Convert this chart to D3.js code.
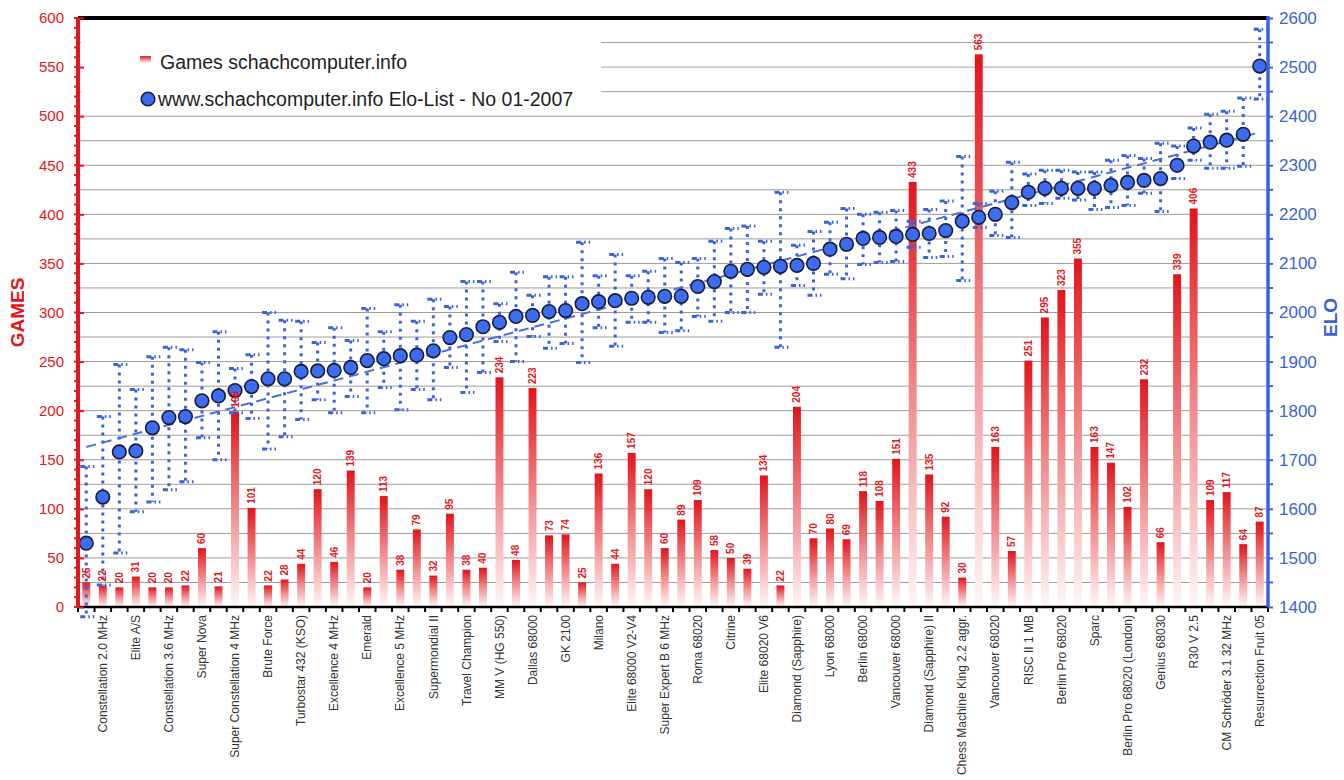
<!DOCTYPE html>
<html>
<head>
<meta charset="utf-8">
<script src="https://cdnjs.cloudflare.com/ajax/libs/d3/7.8.5/d3.min.js"></script>
<style>
    body { margin: 0; background: #fff; }
    text { font-family: "Liberation Sans", Arial, sans-serif; }
</style>
</head>
<body>
<div id="chart"></div>
<script>

// category names, only every second one is printed on the chart
var names = [
    "", "Constellation 2.0 MHz", "", "Elite A/S", "", "Constellation 3.6 MHz",
    "", "Super Nova", "", "Super Constellation 4 MHz", "", "Brute Force",
    "", "Turbostar 432 (KSO)", "", "Excellence 4 MHz", "", "Emerald",
    "", "Excellence 5 MHz", "", "Supermondial II", "", "Travel Champion",
    "", "MM V (HG 550)", "", "Dallas 68000", "", "GK 2100",
    "", "Milano", "", "Elite 68000 V2-V4", "", "Super Expert B 6 MHz",
    "", "Roma 68020", "", "Citrine", "", "Elite 68020 V6",
    "", "Diamond (Sapphire)", "", "Lyon 68000", "", "Berlin 68000",
    "", "Vancouver 68000", "", "Diamond (Sapphire) II", "", "Chess Machine King 2.2 aggr.",
    "", "Vancouver 68020", "", "RISC II 1 MB", "", "Berlin Pro 68020",
    "", "Sparc", "", "Berlin Pro 68020 (London)", "", "Genius 68030",
    "", "R30 V 2.5", "", "CM Schröder 3.1 32 MHz", "", "Resurrection Fruit 05"
];

var games = [
    25, 22, 20, 31, 20, 20, 22, 60, 21, 199,
    101, 22, 28, 44, 120, 46, 139, 20, 113, 38,
    79, 32, 95, 38, 40, 234, 48, 223, 73, 74,
    25, 136, 44, 157, 120, 60, 89, 109, 58, 50,
    39, 134, 22, 204, 70, 80, 69, 118, 108, 151,
    433, 135, 92, 30, 563, 163, 57, 251, 295, 323,
    355, 163, 147, 102, 232, 66, 339, 406, 109, 117,
    64, 87
];

var elo = [
    1530, 1624, 1716, 1718, 1765, 1786, 1788, 1820, 1830, 1841,
    1849, 1865, 1865, 1880, 1881, 1882, 1888, 1902, 1906, 1912,
    1913, 1922, 1949, 1955, 1971, 1980, 1992, 1994, 2002, 2004,
    2018, 2022, 2024, 2029, 2031, 2033, 2033, 2053, 2063, 2084,
    2088, 2092, 2094, 2096, 2100, 2129, 2139, 2151, 2153, 2155,
    2159, 2161, 2167, 2186, 2194, 2200, 2224, 2245, 2253, 2253,
    2253, 2253, 2259, 2265, 2269, 2273, 2300, 2339, 2347, 2351,
    2363, 2502
];

var eloHigh = [
    1686, 1788, 1894, 1843, 1910, 1929, 1924, 1898, 1961, 1886,
    1914, 2000, 1984, 1982, 1939, 1969, 1943, 2008, 1961, 2016,
    1982, 2027, 2012, 2063, 2063, 2018, 2082, 2035, 2073, 2073,
    2143, 2075, 2118, 2075, 2084, 2110, 2102, 2110, 2145, 2171,
    2176, 2145, 2245, 2137, 2165, 2184, 2212, 2200, 2204, 2208,
    2186, 2210, 2227, 2318, 2222, 2247, 2306, 2282, 2290, 2290,
    2286, 2286, 2310, 2320, 2314, 2345, 2339, 2376, 2404, 2410,
    2437, 2577
];

var eloLow = [
    1380, 1445, 1510, 1594, 1614, 1639, 1655, 1745, 1700, 1796,
    1784, 1722, 1747, 1782, 1822, 1796, 1829, 1796, 1847, 1802,
    1843, 1822, 1888, 1837, 1878, 1941, 1900, 1951, 1927, 1937,
    1898, 1969, 1931, 1980, 1980, 1959, 1963, 1992, 1982, 2000,
    2000, 2037, 1929, 2055, 2035, 2078, 2069, 2098, 2102, 2104,
    2133, 2112, 2114, 2065, 2173, 2157, 2153, 2218, 2222, 2233,
    2229, 2210, 2214, 2218, 2243, 2206, 2273, 2310, 2294, 2294,
    2298, 2435
];

// linear trend of the elo list, first and last category
var trendElo = [1726, 2367];

var gamesTicks = d3.range(0, 601, 50);
var eloTicks = d3.range(1400, 2601, 100);

var legendLabels = ["Games schachcomputer.info", "www.schachcomputer.info Elo-List - No 01-2007"];

var red = "#e3161d",
    blue = "#3a62d9";

var margin = {top: 18, right: 76, bottom: 173, left: 78},
    width = 1344 - margin.left - margin.right,
    height = 780 - margin.top - margin.bottom;

var x = d3.scaleBand()
    .domain(d3.range(games.length))
    .range([0, width])
    .paddingInner(0.52)
    .paddingOuter(0.26);

var yG = d3.scaleLinear().domain([0, 600]).range([height, 0]);
var yE = d3.scaleLinear().domain([1400, 2600]).range([height, 0]);

function cx(i) {
    return x(i) + x.bandwidth() / 2;
}

var root = d3.select("#chart").append("svg")
    .attr("width", 1344)
    .attr("height", 780);

root.append("rect").attr("width", 1344).attr("height", 780).style("fill", "#fff");

var defs = root.append("defs");
var grad = defs.append("linearGradient")
    .attr("id", "barGrad")
    .attr("x1", 0).attr("y1", 0)
    .attr("x2", 0).attr("y2", 1);
grad.append("stop").attr("offset", "0%").attr("stop-color", "#e3141b");
grad.append("stop").attr("offset", "50%").attr("stop-color", "#f28a8c");
grad.append("stop").attr("offset", "100%").attr("stop-color", "#fff7f7");

var svg = root.append("g")
    .attr("transform", "translate(" + margin.left + "," + margin.top + ")");

// grid every 25 games
svg.append("g")
    .attr("class", "grid")
    .selectAll("line")
    .data(d3.range(25, 600, 25))
    .enter()
    .append("line")
    .attr("x1", 0)
    .attr("x2", width)
    .attr("y1", function (d) { return yG(d); })
    .attr("y2", function (d) { return yG(d); })
    .style("stroke", "#9c9c9c")
    .style("stroke-width", 1);

// legend background hides the grid
svg.append("rect")
    .attr("x", 3)
    .attr("y", 3)
    .attr("width", 520)
    .attr("height", 92)
    .style("fill", "#fff");

// bars
svg.selectAll(".bar")
    .data(games)
    .enter()
    .append("rect")
    .attr("class", "bar")
    .attr("x", function (d, i) { return x(i); })
    .attr("width", x.bandwidth())
    .attr("y", function (d) { return yG(d); })
    .attr("height", function (d) { return height - yG(d); })
    .style("fill", "url(#barGrad)");

// error bars
var err = svg.append("g").attr("class", "err");

err.selectAll(".errv")
    .data(elo)
    .enter()
    .append("line")
    .attr("class", "errv")
    .attr("x1", function (d, i) { return cx(i); })
    .attr("x2", function (d, i) { return cx(i); })
    .attr("y1", function (d, i) { return yE(eloHigh[i]); })
    .attr("y2", function (d, i) { return yE(eloLow[i]); })
    .style("stroke", blue)
    .style("stroke-width", 3)
    .style("stroke-dasharray", "3,5");

[eloHigh, eloLow].forEach(function (arr) {
    err.selectAll(null)
        .data(arr)
        .enter()
        .append("line")
        .attr("x1", function (d, i) { return cx(i) - 6; })
        .attr("x2", function (d, i) { return cx(i) + 8; })
        .attr("y1", function (d) { return yE(d); })
        .attr("y2", function (d) { return yE(d); })
        .style("stroke", blue)
        .style("stroke-width", 3)
        .style("stroke-dasharray", "5,3,1.5,3");
});

// trend line
svg.append("line")
    .attr("x1", cx(0))
    .attr("x2", cx(games.length - 1))
    .attr("y1", yE(trendElo[0]))
    .attr("y2", yE(trendElo[1]))
    .style("stroke", "#4a6fdc")
    .style("stroke-width", 2)
    .style("stroke-dasharray", "10,6");

// elo dots
svg.selectAll(".dot")
    .data(elo)
    .enter()
    .append("circle")
    .attr("class", "dot")
    .attr("cx", function (d, i) { return cx(i); })
    .attr("cy", function (d) { return yE(d); })
    .attr("r", 6.8)
    .style("fill", "#3c6cf0")
    .style("stroke", "#1b1b3a")
    .style("stroke-width", 1.6);

// value labels
svg.selectAll(".val")
    .data(games)
    .enter()
    .append("text")
    .attr("class", "val")
    .attr("transform", function (d, i) {
        return "translate(" + cx(i) + "," + (yG(d) - 4) + ") rotate(-90)";
    })
    .attr("dy", "0.35em")
    .style("font-size", "10px")
    .style("font-weight", "bold")
    .style("fill", red)
    .text(function (d) { return d; });

// top border
svg.append("line")
    .attr("x1", 0).attr("x2", width)
    .attr("y1", 0).attr("y2", 0)
    .style("stroke", "#000")
    .style("stroke-width", 4);

// bottom axis
var xAxis = d3.axisBottom(x)
    .tickSize(0)
    .tickPadding(0)
    .tickFormat(function (i) { return names[i]; });

var gx = svg.append("g")
    .attr("class", "x axis")
    .attr("transform", "translate(0," + height + ")")
    .call(xAxis);

gx.select(".domain").remove();
gx.selectAll("text")
    .attr("transform", "rotate(-90)")
    .attr("x", -8)
    .attr("y", 0)
    .attr("dy", "0.35em")
    .style("text-anchor", "end")
    .style("font-size", "12px")
    .style("fill", "#333");

gx.selectAll(".bound")
    .data(d3.range(games.length + 1))
    .enter()
    .append("line")
    .attr("x1", function (d) { return d * x.step(); })
    .attr("x2", function (d) { return d * x.step(); })
    .attr("y1", 0)
    .attr("y2", 5)
    .style("stroke", "#000")
    .style("stroke-width", 2);

gx.append("line")
    .attr("x1", 0).attr("x2", width)
    .style("stroke", "#000")
    .style("stroke-width", 2.5);

// left axis (games)
var yAxisL = d3.axisLeft(yG)
    .tickValues(gamesTicks)
    .tickSize(-6)
    .tickPadding(14);

var gl = svg.append("g")
    .attr("class", "y axis")
    .call(yAxisL);

gl.select(".domain").remove();
gl.selectAll(".tick line").style("stroke", red).style("stroke-width", 2);
gl.selectAll("text").style("font-size", "15px").style("fill", red);

gl.selectAll(".minor")
    .data(d3.range(0, 601, 10))
    .enter()
    .append("line")
    .attr("x1", -4).attr("x2", 0)
    .attr("y1", function (d) { return yG(d); })
    .attr("y2", function (d) { return yG(d); })
    .style("stroke", red)
    .style("stroke-width", 2);

gl.append("line")
    .attr("y1", 0).attr("y2", height)
    .style("stroke", red)
    .style("stroke-width", 4);

// right axis (elo)
var yAxisR = d3.axisRight(yE)
    .tickValues(eloTicks)
    .tickFormat(d3.format("d"))
    .tickSize(5)
    .tickPadding(6);

var gr = svg.append("g")
    .attr("class", "y2 axis")
    .attr("transform", "translate(" + width + ",0)")
    .call(yAxisR);

gr.select(".domain").remove();
gr.selectAll(".tick line").style("stroke", blue).style("stroke-width", 2);
gr.selectAll("text").style("font-size", "17px").style("fill", blue);

gr.selectAll(".minor")
    .data(d3.range(1450, 2600, 100))
    .enter()
    .append("line")
    .attr("x1", 0).attr("x2", 5)
    .attr("y1", function (d) { return yE(d); })
    .attr("y2", function (d) { return yE(d); })
    .style("stroke", blue)
    .style("stroke-width", 2);

gr.append("line")
    .attr("y1", -2).attr("y2", height)
    .style("stroke", blue)
    .style("stroke-width", 3.5);

// axis titles
root.append("text")
    .attr("transform", "translate(24," + (margin.top + height / 2) + ") rotate(-90)")
    .style("text-anchor", "middle")
    .style("font-size", "19px")
    .style("font-weight", "bold")
    .style("fill", red)
    .text("GAMES");

root.append("text")
    .attr("transform", "translate(1337," + (margin.top + height / 2 + 5) + ") rotate(-90)")
    .style("text-anchor", "middle")
    .style("font-size", "19px")
    .style("font-weight", "bold")
    .style("fill", blue)
    .text("ELO");

// legend
var legend = root.append("g").attr("transform", "translate(140,0)");

legend.append("rect")
    .attr("x", 0).attr("y", 56)
    .attr("width", 11).attr("height", 7)
    .style("fill", "url(#barGrad)");

legend.append("circle")
    .attr("cx", 8).attr("cy", 99)
    .attr("r", 6.8)
    .style("fill", "#3c6cf0")
    .style("stroke", "#1b1b3a")
    .style("stroke-width", 1.6);

legend.selectAll(".ltext")
    .data(legendLabels)
    .enter()
    .append("text")
    .attr("class", "ltext")
    .attr("x", function (d, i) { return i == 0 ? 20 : 18; })
    .attr("y", function (d, i) { return 69 + i * 37; })
    .style("font-size", "19.5px")
    .style("fill", "#1e1e1e")
    .text(function (d) { return d; });

</script>
</body>
</html>
